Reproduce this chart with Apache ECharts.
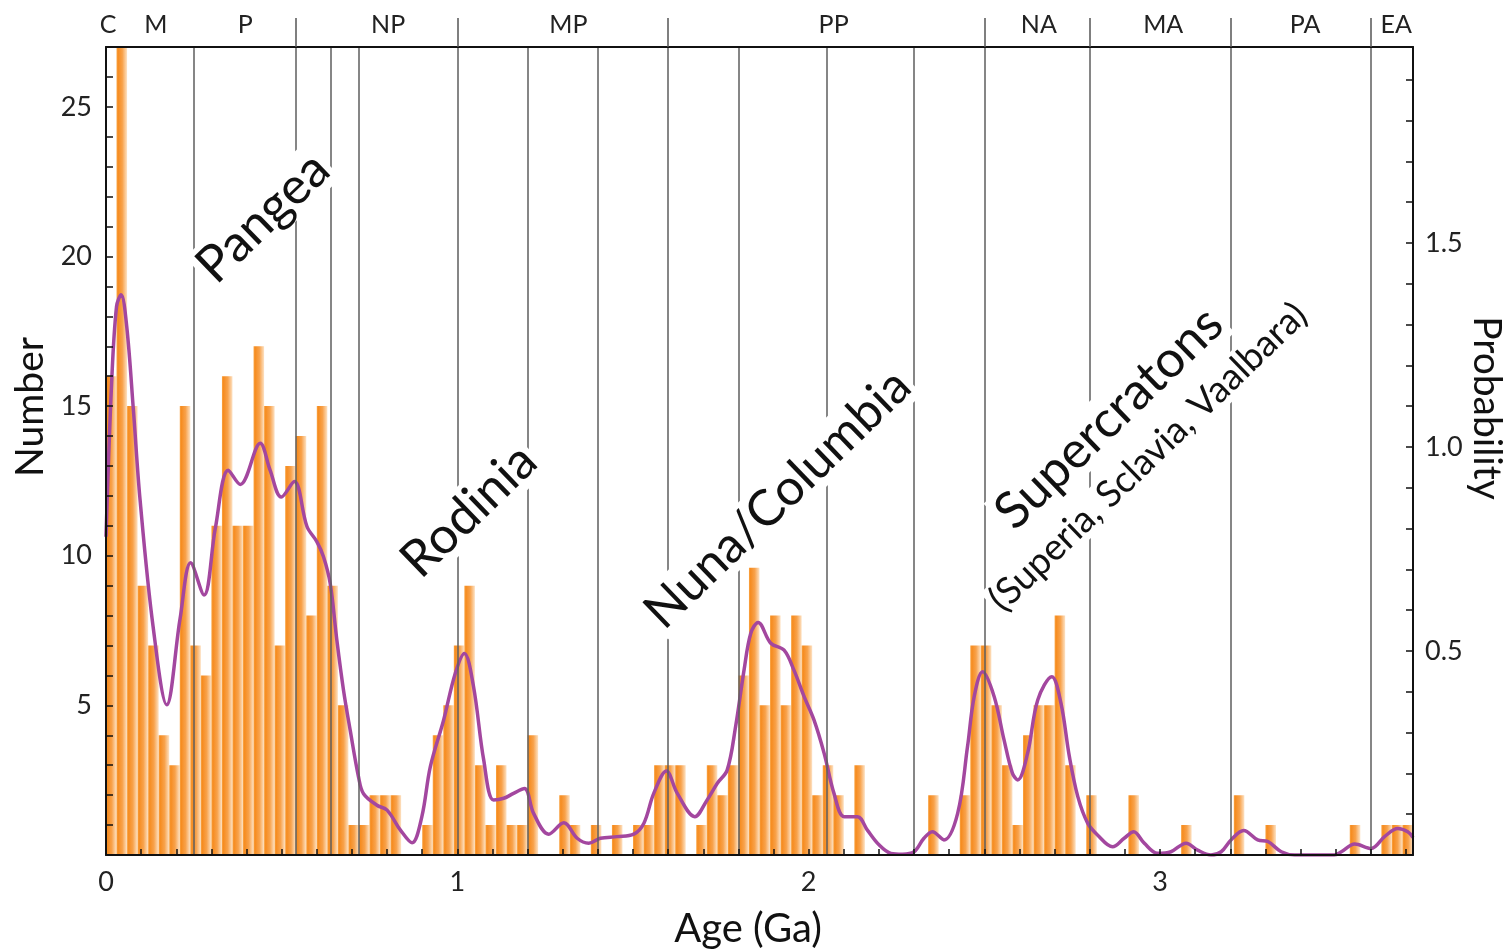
<!DOCTYPE html>
<html>
<head>
<meta charset="utf-8">
<title>Age histogram</title>
<script src="https://cdn.jsdelivr.net/npm/echarts@6/dist/echarts.min.js"></script>
<style>
html, body { width: 100%; height: 100%; margin: 0; padding: 0; background: #fff; }
#chart { width: 1509px; height: 950px; }
</style>
</head>
<body>
<div id="chart"></div>
<script>
// histogram, 0.03 Ga bins starting at 0 Ga
var binWidth = 0.03;
var counts = [
  16, 28, 15, 9, 7, 4, 3, 15, 7, 6,
  11, 16, 11, 11, 17, 15, 7, 13, 14, 8,
  15, 9, 5, 1, 1, 2, 2, 2, 0, 0,
  1, 4, 5, 7, 9, 3, 1, 3, 1, 1,
  4, 0, 0, 2, 1, 0, 1, 0, 1, 0,
  1, 1, 3, 3, 3, 0, 1, 3, 2, 3,
  6, 9.6, 5, 8, 5, 8, 7, 2, 3, 2,
  0, 3, 0, 0, 0, 0, 0, 0, 2, 0,
  0, 2, 7, 7, 5, 3, 1, 4, 5, 5,
  8, 3, 0, 2, 0, 0, 0, 2, 0, 0,
  0, 0, 1, 0, 0, 0, 0, 2, 0, 0,
  1, 0, 0, 0, 0, 0, 0, 0, 1, 0,
  0, 1, 1, 1
];

// probability density curve (right axis)
var probAge = [
  0.000, 0.016, 0.030, 0.043, 0.059, 0.078, 0.097, 0.134, 0.173, 0.211,
  0.241, 0.279, 0.311, 0.348, 0.382, 0.439, 0.467, 0.499, 0.536, 0.572,
  0.600, 0.619, 0.638, 0.657, 0.676, 0.695, 0.719, 0.733, 0.771, 0.800,
  0.838, 0.871, 0.899, 0.923, 0.961, 0.994, 1.020, 1.046, 1.075, 1.103,
  1.132, 1.160, 1.191, 1.217, 1.260, 1.303, 1.341, 1.374, 1.407, 1.455,
  1.502, 1.531, 1.559, 1.595, 1.626, 1.676, 1.711, 1.740, 1.768, 1.792,
  1.816, 1.835, 1.856, 1.892, 1.930, 1.958, 1.987, 2.015, 2.044, 2.072,
  2.101, 2.139, 2.167, 2.200, 2.234, 2.267, 2.300, 2.328, 2.352, 2.385,
  2.424, 2.452, 2.471, 2.495, 2.528, 2.556, 2.580, 2.595, 2.623, 2.652,
  2.692, 2.718, 2.742, 2.766, 2.794, 2.822, 2.865, 2.898, 2.925, 2.955,
  2.993, 3.031, 3.074, 3.107, 3.145, 3.174, 3.202, 3.238, 3.278, 3.307,
  3.345, 3.383, 3.496, 3.516, 3.554, 3.601, 3.639, 3.677, 3.705, 3.720
];
var probValue = [
  0.78, 1.157, 1.344, 1.373, 1.295, 1.09, 0.87, 0.56, 0.368, 0.58,
  0.716, 0.637, 0.80, 0.943, 0.908, 1.009, 0.943, 0.877, 0.915, 0.805,
  0.768, 0.731, 0.666, 0.527, 0.404, 0.306, 0.19, 0.15, 0.122, 0.11,
  0.061, 0.030, 0.094, 0.216, 0.331, 0.445, 0.494, 0.413, 0.233, 0.135,
  0.139, 0.151, 0.163, 0.102, 0.051, 0.079, 0.041, 0.029, 0.041, 0.045,
  0.051, 0.078, 0.151, 0.206, 0.151, 0.094, 0.135, 0.176, 0.208, 0.315,
  0.453, 0.543, 0.570, 0.519, 0.502, 0.453, 0.388, 0.331, 0.249, 0.151,
  0.094, 0.094, 0.061, 0.025, 0.004, 0.002, 0.008, 0.041, 0.057, 0.037,
  0.102, 0.265, 0.388, 0.449, 0.388, 0.282, 0.20, 0.184, 0.249, 0.380,
  0.437, 0.372, 0.241, 0.143, 0.078, 0.049, 0.020, 0.041, 0.057, 0.029,
  0.004, 0.008, 0.029, 0.012, 0.0, 0.008, 0.037, 0.060, 0.037, 0.033,
  0.008, 0.0, 0.0, 0.008, 0.027, 0.016, 0.045, 0.065, 0.057, 0.043
];

// geological time boundaries (Ga)
var boundaries = [0.252, 0.541, 0.635, 0.72, 1.0, 1.2, 1.4, 1.6, 1.8, 2.05, 2.3, 2.5, 2.8, 3.2, 3.6];
var eraTicks = [0.541, 1.0, 1.6, 2.5, 2.8, 3.2, 3.6];
var eraNames = ['C', 'M', 'P', 'NP', 'MP', 'PP', 'NA', 'MA', 'PA', 'EA'];
var eraLabelAt = [0.006, 0.142, 0.396, 0.803, 1.316, 2.071, 2.655, 3.009, 3.413, 3.672];

var xLabels = [0, 1, 2, 3];
var leftLabels = [5, 10, 15, 20, 25];
var rightLabels = [0.5, 1.0, 1.5];

// supercontinent labels, placed at (age, number)
var annoText = ['Pangea', 'Rodinia', 'Nuna/Columbia', 'Supercratons', '(Superia, Sclavia, Vaalbara)'];
var annoAge = [0.447, 1.033, 1.912, 2.855, 2.966];
var annoCount = [21.3, 11.5, 11.9, 14.6, 13.3];
var annoSize = [51, 51, 50, 51, 37];

var FONT = 'Lato, "Open Sans", sans-serif';
var xMax = 3.72, yMax = 27, pMax = 1.98;

function steps(from, to, step) {
  var out = [];
  for (var i = 0; from + i * step <= to + 1e-9; i++) out.push(Math.round((from + i * step) * 100) / 100);
  return out;
}

var bars = counts.map(function (c, i) {
  return [i * binWidth, (i + 1) * binWidth, c];
});
var curve = probAge.map(function (a, i) { return [a, probValue[i]]; });

var barFill = new echarts.graphic.LinearGradient(0, 0, 1, 0, [
  { offset: 0, color: '#f9a444' },
  { offset: 0.15, color: '#f68c20' },
  { offset: 0.55, color: '#f8a24b' },
  { offset: 1, color: '#fde2c4' }
]);

var chart = echarts.init(document.getElementById('chart'));

var option = {
  animation: false,
  backgroundColor: '#fff',
  textStyle: { fontFamily: FONT },
  grid: { left: 106, right: 96, top: 47, bottom: 95, containLabel: false },
  xAxis: [
    {
      type: 'value', min: 0, max: xMax, position: 'bottom', z: 10,
      axisLine: { onZero: false, lineStyle: { color: '#111', width: 2 } },
      axisTick: { inside: true, length: 6, customValues: steps(0, 3.7, 0.1), lineStyle: { color: '#111', width: 1.5 } },
      axisLabel: { customValues: xLabels, fontSize: 27, color: '#222', margin: 14, fontFamily: FONT },
      splitLine: { show: false }
    },
    {
      type: 'value', min: 0, max: xMax, position: 'top', z: 10,
      axisLine: { onZero: false, lineStyle: { color: '#111', width: 2 } },
      axisTick: { inside: false, length: 29, customValues: eraTicks, lineStyle: { color: '#555', width: 1.5 } },
      axisLabel: {
        customValues: eraLabelAt, fontSize: 25, color: '#222', margin: 10, fontFamily: FONT,
        formatter: function (v) {
          var best = 0;
          for (var i = 1; i < eraLabelAt.length; i++) {
            if (Math.abs(eraLabelAt[i] - v) < Math.abs(eraLabelAt[best] - v)) best = i;
          }
          return eraNames[best];
        }
      },
      splitLine: { show: false }
    }
  ],
  yAxis: [
    {
      type: 'value', min: 0, max: yMax, position: 'left', z: 10,
      axisLine: { show: true, onZero: false, lineStyle: { color: '#111', width: 2 } },
      axisTick: { show: true, inside: true, length: 7, customValues: steps(1, 27, 1), lineStyle: { color: '#111', width: 1.5 } },
      axisLabel: { customValues: leftLabels, fontSize: 27, color: '#222', margin: 14, fontFamily: FONT },
      splitLine: { show: false }
    },
    {
      type: 'value', min: 0, max: pMax, position: 'right', z: 10,
      axisLine: { show: true, onZero: false, lineStyle: { color: '#111', width: 2 } },
      axisTick: { show: true, inside: true, length: 7, customValues: steps(0.1, 1.9, 0.1), lineStyle: { color: '#111', width: 1.5 } },
      axisLabel: {
        customValues: rightLabels, fontSize: 27, color: '#222', margin: 12, fontFamily: FONT,
        formatter: function (v) { return v.toFixed(1); }
      },
      splitLine: { show: false }
    }
  ],
  series: [
    {
      name: 'Number',
      type: 'custom',
      xAxisIndex: 0,
      yAxisIndex: 0,
      data: bars,
      encode: { x: [0, 1], y: 2 },
      renderItem: function (params, api) {
        var n = api.value(2);
        if (!n) return;
        var p0 = api.coord([api.value(0), n]);
        var p1 = api.coord([api.value(1), 0]);
        var cs = params.coordSys;
        var shape = echarts.graphic.clipRectByRect(
          { x: p0[0], y: p0[1], width: p1[0] - p0[0], height: p1[1] - p0[1] },
          { x: cs.x, y: cs.y, width: cs.width, height: cs.height }
        );
        if (!shape) return;
        return { type: 'rect', shape: shape, style: { fill: barFill } };
      }
    },
    {
      name: 'Probability',
      type: 'line',
      xAxisIndex: 0,
      yAxisIndex: 1,
      data: curve,
      smooth: 0.35,
      showSymbol: false,
      clip: true,
      lineStyle: { color: '#a3479f', width: 3.5 },
      markLine: {
        silent: true,
        symbol: ['none', 'none'],
        label: { show: false },
        lineStyle: { color: '#5e5e5e', width: 1.5, type: 'solid' },
        data: boundaries.map(function (b) { return { xAxis: b }; })
      }
    }
  ]
};

chart.setOption(option);

// axis names and rotated labels
var graphics = [
  { type: 'text', x: 30, y: 407, rotation: Math.PI / 2,
    style: { text: 'Number', font: '39px ' + FONT, fill: '#111', align: 'center', verticalAlign: 'middle' } },
  { type: 'text', x: 1487, y: 408, rotation: -Math.PI / 2,
    style: { text: 'Probability', font: '39px ' + FONT, fill: '#111', align: 'center', verticalAlign: 'middle' } },
  { type: 'text', x: 748, y: 929,
    style: { text: 'Age (Ga)', font: '40px ' + FONT, fill: '#111', align: 'center', verticalAlign: 'middle' } }
];
annoText.forEach(function (t, i) {
  var p = chart.convertToPixel({ xAxisIndex: 0, yAxisIndex: 0 }, [annoAge[i], annoCount[i]]);
  graphics.push({
    type: 'text', x: p[0], y: p[1], rotation: 44 * Math.PI / 180, z: 100,
    style: {
      text: t, font: annoSize[i] + 'px ' + FONT, fill: '#111',
      align: 'center', verticalAlign: 'middle',
      backgroundColor: '#fff', padding: [0, 3]
    }
  });
});
chart.setOption({ graphic: graphics });
</script>
</body>
</html>
